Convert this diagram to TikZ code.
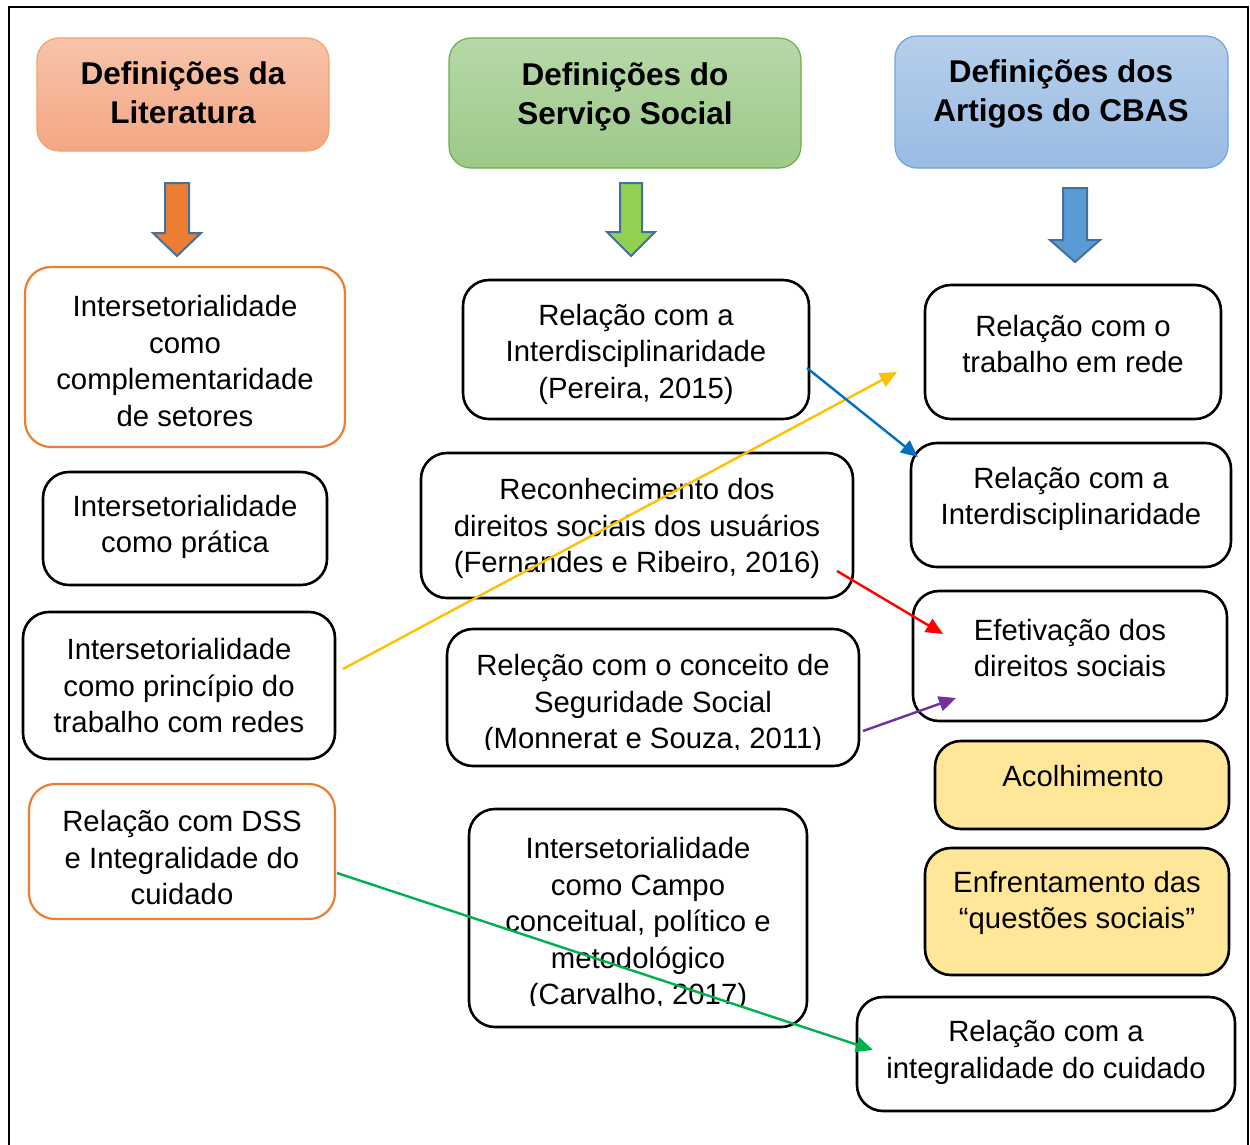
\documentclass[tikz,border=0pt]{standalone}
\usepackage{fontspec}
\setmainfont{Liberation Sans}
\usetikzlibrary{arrows.meta}
\definecolor{orB}{HTML}{ED7D31}
\definecolor{orT}{HTML}{F7C4AA}
\definecolor{orD}{HTML}{F4A683}
\definecolor{grB}{HTML}{70AD47}
\definecolor{grT}{HTML}{B7D8A9}
\definecolor{grD}{HTML}{9DC988}
\definecolor{blB}{HTML}{6FA4DA}
\definecolor{blT}{HTML}{B6CFEB}
\definecolor{blD}{HTML}{99BBE3}
\definecolor{ylF}{HTML}{FFE699}
\definecolor{arS}{HTML}{41719C}
\definecolor{arO}{HTML}{ED7D31}
\definecolor{arG}{HTML}{92D050}
\definecolor{arB}{HTML}{5B9BD5}
\definecolor{cY}{HTML}{FFC000}
\definecolor{cB}{HTML}{0070C0}
\definecolor{cR}{HTML}{FF0000}
\definecolor{cP}{HTML}{7030A0}
\definecolor{cG}{HTML}{00B050}
\begin{document}
\begin{tikzpicture}[x=1pt,y=-1pt,
  bx/.style={draw=black, line width=2.6pt, rounded corners=26pt, inner sep=0pt},
  obx/.style={bx, draw=orB, line width=2.2pt},
  ybx/.style={bx, fill=ylF},
  hd/.style={rounded corners=22pt, line width=1.2pt, inner sep=0pt},
  txt/.style={align=center, font=\fontsize{29.3}{36.5}\selectfont, inner sep=0pt},
  htxt/.style={align=center, font=\fontsize{31.5}{39}\selectfont\bfseries, inner sep=0pt},
  conn/.style={line width=2.4pt, -{Triangle[length=17pt,width=15pt]}},
  barrow/.style={draw=arS, line width=2pt, line join=miter}
]
\useasboundingbox (0,0) rectangle (1250,1144);
\fill[white] (0,0) rectangle (1250,1144);
% frame
\draw[line width=2.6pt] (9,1160) -- (9,7) -- (1248,7) -- (1248,1160);

% headers
\node[hd, draw=orB!70, top color=orT, bottom color=orD, minimum width=292pt, minimum height=113pt] (h1) at (183,94.5) {};
\node[htxt] (h1t) at (183,93) {Definições da\\Literatura};
\node[hd, draw=grB, top color=grT, bottom color=grD, minimum width=352pt, minimum height=130pt] (h2) at (625,103) {};
\node[htxt] (h2t) at (625,96.5) {Definições do\\Serviço Social};
\node[hd, draw=blB, top color=blT, bottom color=blD, minimum width=333pt, minimum height=132pt] (h3) at (1061.5,102) {};
\node[htxt] (h3t) at (1061,94) {Definições dos\\Artigos do CBAS};

% block arrows
\draw[barrow, fill=arO] (165,183) -- (189,183) -- (189,233) -- (201,233) -- (177,256) -- (153,233) -- (165,233) -- cycle;
\draw[barrow, fill=arG] (620,183) -- (642,183) -- (642,232) -- (655,232) -- (631,256) -- (607,232) -- (620,232) -- cycle;
\draw[barrow, fill=arB] (1063,188) -- (1087,188) -- (1087,240) -- (1100,240) -- (1075,262) -- (1050,240) -- (1063,240) -- cycle;

% left column
\node[obx, minimum width=320pt, minimum height=180pt] (l1) at (185,357) {};
\node[txt] (l1t) at (185,361) {Intersetorialidade\\como\\complementaridade\\de setores};
\node[bx, minimum width=284pt, minimum height=113pt] (l2) at (185,528.5) {};
\node[txt] (l2t) at (185,527) {Intersetorialidade\\como prática};
\node[bx, minimum width=312pt, minimum height=147pt] (l3) at (179,685.5) {};
\node[txt] (l3t) at (179,686) {Intersetorialidade\\como princípio do\\trabalho com redes};
\node[obx, minimum width=306pt, minimum height=135pt] (l4) at (182,851.5) {};
\node[txt] (l4t) at (182,858) {Relação com DSS\\e Integralidade do\\cuidado};

% middle column
\node[bx, minimum width=346pt, minimum height=139pt] (m1) at (636,349.5) {};
\node[txt] (m1t) at (636,354) {Relação com a\\Interdisciplinaridade\\(Pereira, 2015)};
\node[bx, minimum width=432pt, minimum height=145pt] (m2) at (637,525.5) {};
\node[txt] (m2t) at (637,528.5) {Reconhecimento dos\\direitos sociais dos usuários\\(Fernandes e Ribeiro, 2016)};
\node[bx, minimum width=412pt, minimum height=137pt] (m3) at (653,697.5) {};
\begin{scope}
\clip (447,629) rectangle (859,749);
\node[txt] (m3t) at (653,704.5) {Releção com o conceito de\\Seguridade Social\\(Monnerat e Souza, 2011)};
\end{scope}
\node[bx, minimum width=338pt, minimum height=218pt] (m4) at (638,918) {};
\begin{scope}
\clip (469,809) rectangle (807,1005);
\node[txt] (m4t) at (638,924) {Intersetorialidade\\como Campo\\conceitual, político e\\metodológico\\(Carvalho, 2017)};
\end{scope}

% right column
\node[bx, minimum width=296pt, minimum height=134pt] (r1) at (1073,352) {};
\node[txt] (r1t) at (1073,344) {Relação com o\\trabalho em rede};
\node[bx, minimum width=320pt, minimum height=124pt] (r2) at (1071,505) {};
\node[txt] (r2t) at (1071,499) {Relação com a\\Interdisciplinaridade};
\node[bx, minimum width=314pt, minimum height=130pt] (r3) at (1070,656) {};
\node[txt] (r3t) at (1070,648) {Efetivação dos\\direitos sociais};
\node[ybx, minimum width=294pt, minimum height=88pt] (r4) at (1082,785) {};
\node[txt] (r4t) at (1083,776) {Acolhimento};
\node[ybx, minimum width=304pt, minimum height=127pt] (r5) at (1077,911.5) {};
\node[txt] (r5t) at (1077,903) {Enfrentamento das\\“questões sociais”};
\node[bx, minimum width=378pt, minimum height=114pt] (r6) at (1046,1054) {};
\node[txt] (r6t) at (1046,1052.5) {Relação com a\\integralidade do cuidado};

% connectors
\coordinate (ys) at (343,669);
\coordinate (ye) at (897,372);
\coordinate (bs) at (807,368);
\coordinate (be) at (918,457);
\coordinate (rs) at (837,571);
\coordinate (re) at (943,634);
\coordinate (ps) at (863,731);
\coordinate (pe) at (956,698);
\coordinate (gs) at (337,873);
\coordinate (ge) at (873,1050);
\draw[conn, cY] (ys) -- (ye);
\draw[conn, cB] (bs) -- (be);
\draw[conn, cR] (rs) -- (re);
\draw[conn, cP] (ps) -- (pe);
\draw[conn, cG] (gs) -- (ge);
\end{tikzpicture}
\end{document}
